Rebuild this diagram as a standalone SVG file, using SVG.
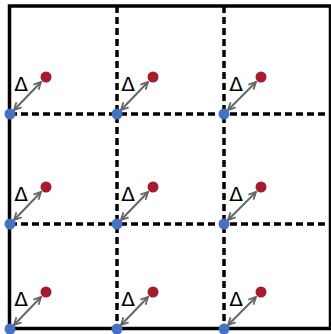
<svg xmlns="http://www.w3.org/2000/svg" width="331" height="334" viewBox="0 0 331 334">
<defs>
<style>
.grid{stroke:#000;stroke-width:3.5;stroke-dasharray:7 4;fill:none}
.box{stroke:#000;stroke-width:3.5;fill:none}
.arr{stroke:#666;stroke-width:2;fill:none;marker-start:url(#ah);marker-end:url(#ah)}
.b{fill:#4472C4}
.r{fill:#A51C30}
.d{font-family:"DejaVu Sans","Liberation Sans",sans-serif;font-size:20px;fill:#000;text-anchor:middle}
</style>
<marker id="ah" viewBox="0 0 10 10" refX="9" refY="5" markerWidth="4.5" markerHeight="4.5" orient="auto-start-reverse" markerUnits="strokeWidth">
<path d="M1,1 L9,5 L1,9" fill="none" stroke="#666" stroke-width="2"/>
</marker>
</defs>
<g id="frame">
<rect class="box" x="9.5" y="6" width="321" height="322.5"/>
</g>
<g id="connectors">
<line class="grid" x1="117" y1="6" x2="117" y2="328"/>
<line class="grid" x1="224" y1="6" x2="224" y2="328"/>
<line class="grid" x1="10" y1="114" x2="330" y2="114"/>
<line class="grid" x1="10" y1="224" x2="330" y2="224"/>
<line class="arr" x1="14" y1="110" x2="41" y2="82"/>
<line class="arr" x1="121" y1="110" x2="148" y2="82"/>
<line class="arr" x1="228" y1="110" x2="256" y2="82"/>
<line class="arr" x1="14" y1="220" x2="41" y2="192"/>
<line class="arr" x1="121" y1="220" x2="148" y2="192"/>
<line class="arr" x1="228" y1="220" x2="256" y2="192"/>
<line class="arr" x1="14" y1="325" x2="41" y2="297"/>
<line class="arr" x1="121" y1="325" x2="148" y2="297"/>
<line class="arr" x1="228" y1="325" x2="256" y2="297"/>
</g>
<g id="n11"><circle class="b" cx="10" cy="114" r="5.5"/><circle class="r" cx="46" cy="77" r="5.5"/><text class="d" x="21" y="91">Δ</text></g>
<g id="n12"><circle class="b" cx="117" cy="114" r="5.5"/><circle class="r" cx="153" cy="77" r="5.5"/><text class="d" x="128" y="91">Δ</text></g>
<g id="n13"><circle class="b" cx="224" cy="114" r="5.5"/><circle class="r" cx="261" cy="77" r="5.5"/><text class="d" x="236" y="91">Δ</text></g>
<g id="n21"><circle class="b" cx="10" cy="224" r="5.5"/><circle class="r" cx="46" cy="187" r="5.5"/><text class="d" x="21" y="201">Δ</text></g>
<g id="n22"><circle class="b" cx="117" cy="224" r="5.5"/><circle class="r" cx="153" cy="187" r="5.5"/><text class="d" x="128" y="201">Δ</text></g>
<g id="n23"><circle class="b" cx="224" cy="224" r="5.5"/><circle class="r" cx="261" cy="187" r="5.5"/><text class="d" x="236" y="201">Δ</text></g>
<g id="n31"><circle class="b" cx="10" cy="329" r="5.5"/><circle class="r" cx="46" cy="292" r="5.5"/><text class="d" x="21" y="306">Δ</text></g>
<g id="n32"><circle class="b" cx="117" cy="329" r="5.5"/><circle class="r" cx="153" cy="292" r="5.5"/><text class="d" x="128" y="306">Δ</text></g>
<g id="n33"><circle class="b" cx="224" cy="329" r="5.5"/><circle class="r" cx="261" cy="292" r="5.5"/><text class="d" x="236" y="306">Δ</text></g>
</svg>
